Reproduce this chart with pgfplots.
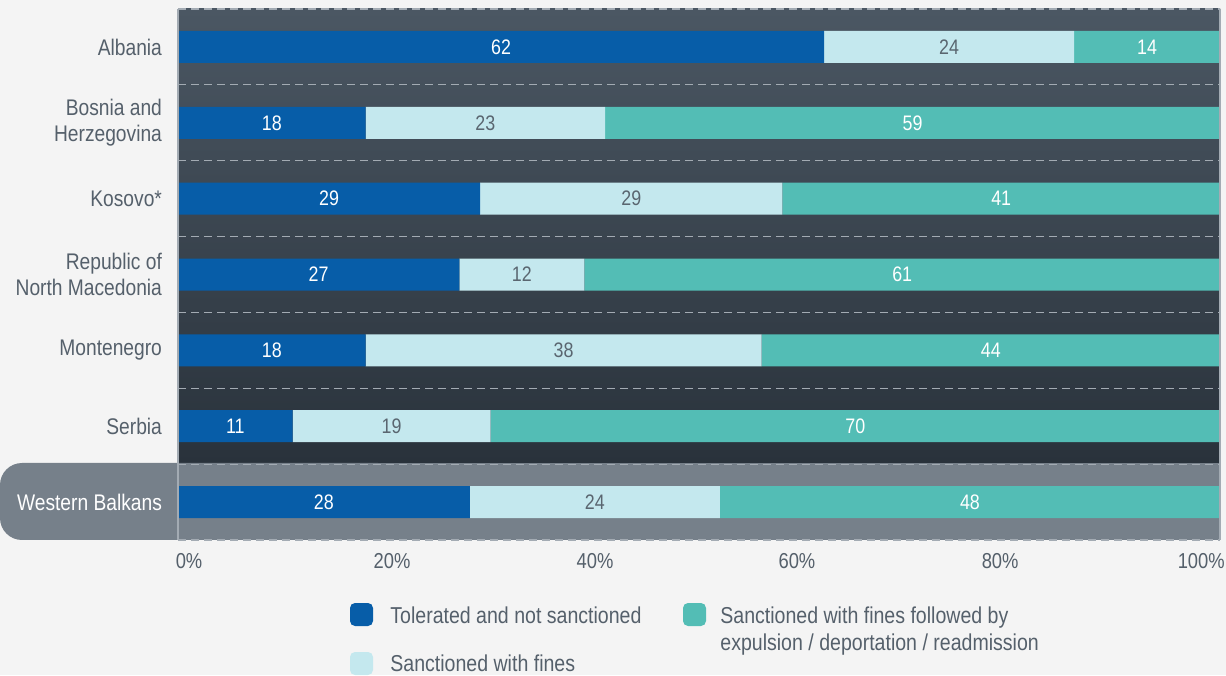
\documentclass[border=0pt]{standalone}
\usepackage{pgfplots}
\pgfplotsset{compat=1.18}
\usepackage{pgfplotstable}
\usepackage{fontspec}
\setmainfont{Liberation Sans}[FakeStretch=0.85]
\definecolor{bg}{HTML}{F4F4F4}
\definecolor{cblue}{HTML}{075DA8}
\definecolor{clight}{HTML}{C4E8EE}
\definecolor{cteal}{HTML}{53BDB5}
\definecolor{ctop}{HTML}{4B5763}
\definecolor{cbot}{HTML}{29323B}
\definecolor{cband}{HTML}{76808A}
\definecolor{txt}{HTML}{55606B}
\definecolor{dashc}{HTML}{A3ABB3}
\definecolor{ltxt}{HTML}{5A6670}

\pgfplotstableread{
y a b c la lb lc
6 62 24 14 62 24 14
5 18 23 59 18 23 59
4 29 29 42 29 29 41
3 27 12 61 27 12 61
2 18 38 44 18 38 44
1 11 19 70 11 19 70
0 28 24 48 28 24 48
}\datatable

\pgfplotsset{
  rowframe/.style={
    at={(89pt,67.5pt)}, anchor=south west,
    scale only axis, width=521pt, height=265.5pt,
    xmin=0, xmax=100, ymin=-0.5, ymax=6.5,
    clip=false,
  },
}

\begin{document}
\begin{tikzpicture}[x=0.5pt,y=0.5pt]
\useasboundingbox (0,0) rectangle (1226,675);
\fill[bg] (0,0) rectangle (1226,675);
% plot background
\shade[top color=ctop, bottom color=cbot] (178,212) rectangle (1220,666);
\fill[cband, rounded corners=11pt] (0,135) rectangle (400,212);
\fill[cband] (178,135) rectangle (1220,212);

\begin{axis}[
  rowframe,
  axis line style={draw=none},
  xbar stacked, bar width=16pt,
  major tick length=0pt,
  xtick={1.06,20.54,40.02,59.4,78.9,98.2},
  xticklabels={0\%,20\%,40\%,60\%,80\%,100\%},
  ytick={0,...,6},
  yticklabels={{\color{white}Western Balkans},Serbia,Montenegro,{Republic of\\North Macedonia},Kosovo*,{Bosnia and\\Herzegovina},Albania},
  yticklabel style={font=\fontsize{11.3}{13}\selectfont, text=txt, align=right, xshift=-4.5pt},
  xticklabel style={font=\fontsize{10.8}{13}\selectfont, text=txt, yshift=-3pt},
  /pgf/number format/assume math mode=true,
]
\pgfplotsinvokeforeach{-0.5,0.5,1.5,2.5,3.5,4.5,5.5,6.5}{
  \draw[dashc, line width=0.6pt, dash pattern=on 4pt off 2.5pt] (axis cs:0,#1) -- (axis cs:100,#1);
}
\draw[dashc, line width=0.6pt] (axis cs:0,-0.5) -- (axis cs:0,6.5);
\draw[dashc, line width=0.6pt] (axis cs:100,-0.5) -- (axis cs:100,6.5);

\addplot[fill=cblue, draw=none] table[x=a, y=y] \datatable;
\addplot[fill=clight, draw=none] table[x=b, y=y] \datatable;
\addplot[fill=cteal, draw=none] table[x=c, y=y] \datatable;
\end{axis}

% segment labels, centred in each segment
\begin{axis}[
  rowframe, hide axis,
  nodes near coords={\pgfplotspointmeta},
  point meta=explicit symbolic,
  every node near coord/.style={anchor=center, font=\fontsize{10.5}{12}\selectfont},
]
\addplot[draw=none, mark=none, every node near coord/.append style={text=white}]
  table[x expr=\thisrow{a}/2, y=y, meta=la] \datatable;
\addplot[draw=none, mark=none, every node near coord/.append style={text=ltxt}]
  table[x expr=\thisrow{a}+\thisrow{b}/2, y=y, meta=lb] \datatable;
\addplot[draw=none, mark=none, every node near coord/.append style={text=white}]
  table[x expr=\thisrow{a}+\thisrow{b}+\thisrow{c}/2, y=y, meta=lc] \datatable;
\end{axis}

% legend
\fill[cblue, rounded corners=2.5pt] (350,49) rectangle (373,72);
\node[anchor=west, inner sep=0, text=txt, font=\fontsize{11.5}{13.5}\selectfont] at (390,60) {Tolerated and not sanctioned};
\fill[clight, rounded corners=2.5pt] (350,0) rectangle (373,23);
\node[anchor=west, inner sep=0, text=txt, font=\fontsize{11.5}{13.5}\selectfont] at (390,12) {Sanctioned with fines};
\fill[cteal, rounded corners=2.5pt] (683,49) rectangle (706,72);
\node[anchor=west, inner sep=0, text=txt, align=left, font=\fontsize{11.5}{13.5}\selectfont] at (720,43.5) {Sanctioned with fines followed by\\expulsion / deportation / readmission};
\end{tikzpicture}
\end{document}
